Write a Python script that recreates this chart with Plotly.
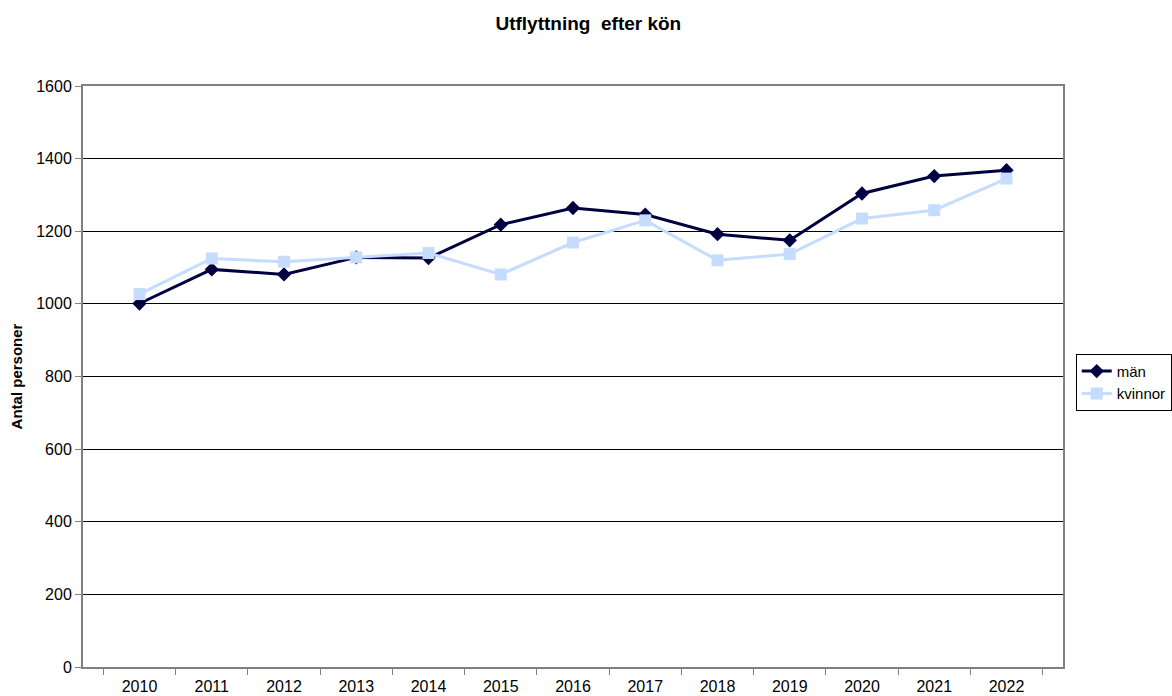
import plotly.graph_objects as go

years = ["2010", "2011", "2012", "2013", "2014", "2015", "2016",
         "2017", "2018", "2019", "2020", "2021", "2022"]
man = [1001, 1095, 1081, 1128, 1126, 1218, 1264, 1246, 1192, 1175, 1304, 1352, 1368]
kvinnor = [1027, 1125, 1116, 1128, 1140, 1081, 1169, 1230, 1120, 1137, 1235, 1258, 1345]

FONT = "Liberation Sans, Arial, sans-serif"

fig = go.Figure()

fig.add_trace(go.Scatter(
    x=years, y=man, name="män", mode="lines+markers",
    line=dict(color="#000040", width=3),
    marker=dict(symbol="diamond", size=11, color="#000040"),
))
fig.add_trace(go.Scatter(
    x=years, y=kvinnor, name="kvinnor", mode="lines+markers",
    line=dict(color="#c6dcff", width=3),
    marker=dict(symbol="square", size=12, color="#c6dcff"),
))

fig.update_layout(
    width=1172, height=696,
    margin=dict(l=83, r=109, t=86, b=29, autoexpand=False),
    paper_bgcolor="white", plot_bgcolor="white",
    font=dict(family=FONT, size=16, color="black"),
    title=dict(text="<b>Utflyttning  efter kön</b>", x=0.502, xanchor="center",
               y=0.967, yanchor="middle", font=dict(size=19)),
    showlegend=True,
    legend=dict(x=1.013, xanchor="left", y=0.49, yanchor="middle",
                bordercolor="black", borderwidth=1, bgcolor="white",
                font=dict(size=15), itemwidth=30, tracegroupgap=4),
    xaxis=dict(
        type="category", tickson="boundaries", ticks="outside", ticklen=6,
        tickcolor="#808080", showline=True, linecolor="#808080", linewidth=2,
        mirror=True, showgrid=False, tickfont=dict(size=16), automargin=False,
        ticklabelstandoff=4,
    ),
    yaxis=dict(
        range=[0, 1600], dtick=200, ticks="outside", ticklen=6,
        tickcolor="#808080", showline=True, linecolor="#808080", linewidth=2,
        mirror=True, showgrid=True, gridcolor="#000000", gridwidth=1,
        zeroline=False, tickfont=dict(size=16), automargin=False,
        title=dict(text="<b>Antal personer</b>", font=dict(size=15), standoff=10),
    ),
)

# page body has a default 8px margin; drop it so the figure sits at the corner
fig.write_html("out.html", config={"displayModeBar": False},
               post_script="document.body.style.margin='0';")
